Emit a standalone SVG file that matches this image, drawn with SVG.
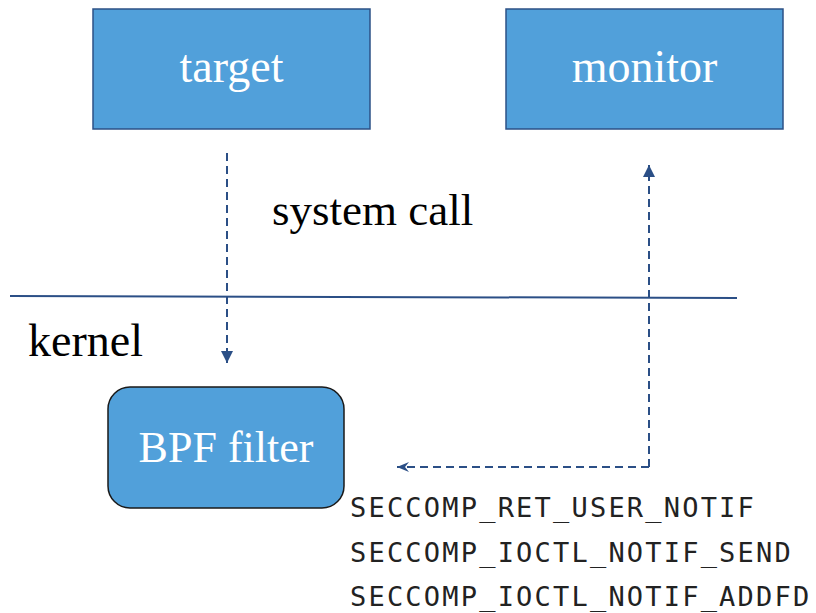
<svg xmlns="http://www.w3.org/2000/svg" width="816" height="613" viewBox="0 0 816 613">
  <style>
    .box { fill: #51A0DA; stroke: #2C5186; stroke-width: 1.5; }
    .rbox { fill: #51A0DA; stroke: #1a1a1a; stroke-width: 1.5; }
    .lbl { font-family: "Liberation Serif", "DejaVu Serif", serif; fill: #ffffff; text-anchor: middle; }
    .txt { font-family: "Liberation Serif", "DejaVu Serif", serif; fill: #000000; }
    .mono { font-family: "DejaVu Sans Mono", "Liberation Mono", monospace; font-size: 27px; letter-spacing: 2.2px; fill: #222222; }
    .dash { fill: none; stroke: #2B4F86; stroke-width: 2; stroke-dasharray: 8 5; }
  </style>
  <defs>
    <marker id="tri" markerWidth="12" markerHeight="12" refX="10" refY="5" orient="auto" markerUnits="userSpaceOnUse" viewBox="0 0 10 10">
      <path d="M0,0 L10,5 L0,10 Z" fill="#2B4F86"/>
    </marker>
    <marker id="stealth" markerWidth="14" markerHeight="12" refX="12" refY="6" orient="auto" markerUnits="userSpaceOnUse" viewBox="0 0 14 12">
      <path d="M0,1 L12,6 L0,11 L4,6 Z" fill="#2B4F86"/>
    </marker>
  </defs>

  <rect width="816" height="613" fill="#ffffff"/>

  <!-- user / kernel boundary -->
  <line x1="10" y1="296" x2="737" y2="298" stroke="#2B4F86" stroke-width="2"/>
  <text class="txt" x="28" y="356" font-size="46">kernel</text>
  <text class="txt" x="272" y="225" font-size="45">system call</text>

  <g id="target">
    <rect class="box" x="93" y="9" width="277" height="120"/>
    <text class="lbl" x="231.5" y="82" font-size="46">target</text>
  </g>

  <g id="monitor">
    <rect class="box" x="506" y="9" width="277" height="120"/>
    <text class="lbl" x="644.5" y="82" font-size="46">monitor</text>
  </g>

  <g id="bpf-filter">
    <rect class="rbox" x="108" y="387" width="236" height="121" rx="22" ry="22"/>
    <text class="lbl" x="226" y="462" font-size="44">BPF filter</text>
  </g>

  <g id="connectors">
    <line class="dash" x1="227" y1="153" x2="227" y2="363" marker-end="url(#tri)"/>
    <polyline class="dash" points="649,467 649,165" marker-end="url(#tri)"/>
    <polyline class="dash" points="649,467 397,467" marker-end="url(#stealth)"/>
  </g>

  <g id="notif-ops">
    <text class="mono" x="350" y="517">SECCOMP_RET_USER_NOTIF</text>
    <text class="mono" x="350" y="562">SECCOMP_IOCTL_NOTIF_SEND</text>
    <text class="mono" x="350" y="606">SECCOMP_IOCTL_NOTIF_ADDFD</text>
  </g>
</svg>
